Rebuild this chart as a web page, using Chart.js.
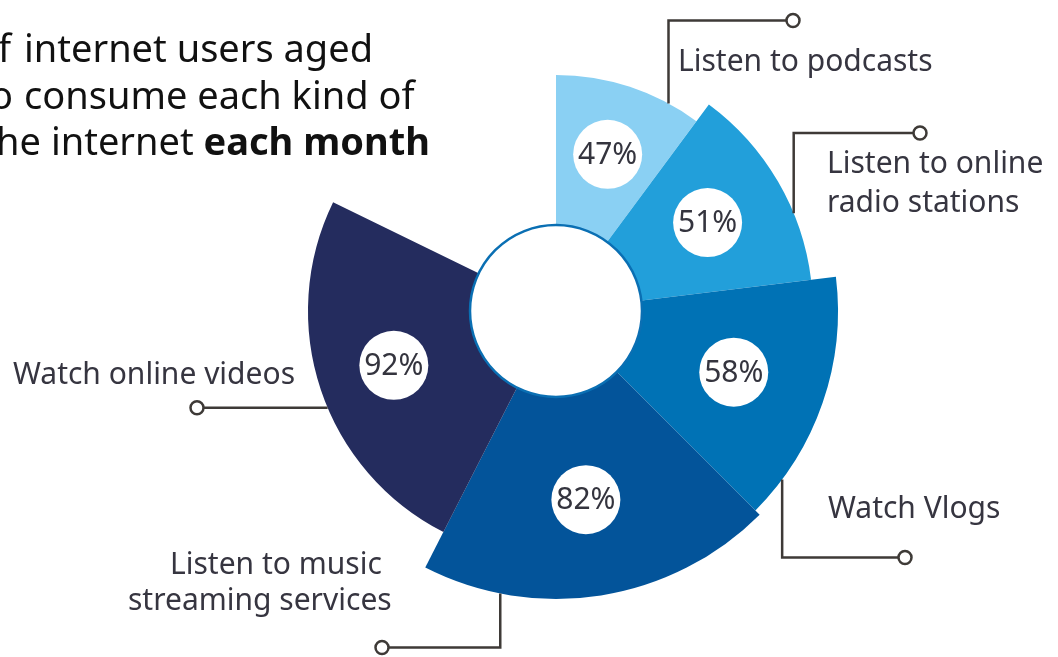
<!DOCTYPE html>
<html>
<head>
<meta charset="utf-8">
<script src="https://cdn.jsdelivr.net/npm/chart.js@4.4.0/dist/chart.umd.min.js"></script>
<style>
html, body { margin: 0; padding: 0; background: #fff; }
#wrap { position: relative; width: 1058px; height: 657px; }
</style>
</head>
<body>
<div id="wrap"><canvas id="chart"></canvas></div>
<script>
// categories, one entry per slice (clockwise from the top)
const categories = [
    ["Listen to podcasts"],
    ["Listen to online", "radio stations"],
    ["Watch Vlogs"],
    ["Listen to music", "streaming services"],
    ["Watch online videos"]
];
const shares = [47, 51, 58, 82, 92];
// length of each slice beyond the hole
const reach = [75, 85.5, 98, 101, 81];
// angle covered by each slice, degrees
const sweep = [36.5, 46.5, 52, 72, 89];

const Colors = ["#8ad0f3", "#229fda", "#0072b5", "#03549a", "#242c5e"];
const inkText = "#363540";
const inkLine = "#3e3a37";

// where the callout lines and labels go
const callouts = [
    { frac: 0.78, elbowY: 20.5, endX: 793, lines: [[678, 71]] },
    { frac: 0.67, elbowY: 133, endX: 920, lines: [[827, 173], [827, 211.5]] },
    { frac: 0.84, elbowY: 557.5, endX: 905, lines: [[828, 518]] },
    { frac: 0.78, elbowY: 647.5, endX: 382, lines: [[170, 573.5], [128, 610]] },
    { frac: 0.45, elbowY: null, endX: 197, lines: [[13, 383.5]] }
];

const decor = {
    id: 'decor',
    afterDatasetsDraw(chart) {
        const ctx = chart.ctx;
        const scale = chart.scales.r;
        const cx = scale.xCenter, cy = scale.yCenter;
        const hole = scale.getDistanceFromCenterForValue(0);
        ctx.save();

        // white hole with blue ring
        ctx.beginPath();
        ctx.arc(cx, cy, hole, 0, Math.PI * 2);
        ctx.fillStyle = "#fff";
        ctx.fill();
        ctx.lineWidth = 2.5;
        ctx.strokeStyle = "#0a6fb3";
        ctx.stroke();

        const arcs = chart.getDatasetMeta(0).data;
        arcs.forEach((arc, i) => {
            // value bubble
            const a = (arc.startAngle + arc.endAngle) / 2;
            const r = (hole + arc.outerRadius) / 2 + 4;
            const x = cx + Math.cos(a) * r, y = cy + Math.sin(a) * r;
            ctx.beginPath();
            ctx.arc(x, y, 34.5, 0, Math.PI * 2);
            ctx.fillStyle = "#fff";
            ctx.fill();
            ctx.fillStyle = "#34343e";
            ctx.font = '30px "Noto Sans"';
            ctx.textAlign = "center";
            ctx.textBaseline = "middle";
            ctx.fillText(shares[i] + "%", x, y + 1);

            // callout
            const c = callouts[i];
            const ca = arc.startAngle + c.frac * (arc.endAngle - arc.startAngle);
            const ax = cx + Math.cos(ca) * arc.outerRadius;
            const ay = cy + Math.sin(ca) * arc.outerRadius;
            const ey = c.elbowY === null ? ay : c.elbowY;
            ctx.beginPath();
            ctx.moveTo(ax, ay);
            ctx.lineTo(ax, ey);
            ctx.lineTo(c.endX, ey);
            ctx.lineWidth = 2.5;
            ctx.strokeStyle = inkLine;
            ctx.stroke();
            ctx.beginPath();
            ctx.arc(c.endX, ey, 6.5, 0, Math.PI * 2);
            ctx.fillStyle = "#fff";
            ctx.fill();
            ctx.stroke();

            ctx.fillStyle = inkText;
            ctx.font = '30px "Noto Sans"';
            ctx.textAlign = "left";
            ctx.textBaseline = "alphabetic";
            categories[i].forEach((t, k) => {
                ctx.fillText(t, c.lines[k][0], c.lines[k][1]);
            });
        });

        // title, cut off at the left edge like the source
        ctx.fillStyle = "#111";
        ctx.textBaseline = "alphabetic";
        ctx.font = '38px "Noto Sans"';
        ctx.textAlign = "right";
        ctx.fillText("of", 11, 61.5);
        ctx.fillText("who", 13, 108.5);
        ctx.textAlign = "left";
        ctx.fillText("internet users aged", 24, 61.5);
        ctx.fillText("consume each kind of", 24, 108.5);
        let x = 41 - ctx.measureText("the").width;
        ctx.fillText("the internet ", x, 155);
        x += ctx.measureText("the internet ").width;
        ctx.font = 'bold 38px "Noto Sans"';
        ctx.fillText("each month", x, 155);
        ctx.restore();
    }
};

function makeChart() {
    new Chart(document.getElementById("chart"), {
        type: 'polarArea',
        data: {
            labels: categories.map(c => c.join(" ")),
            datasets: [{
                data: reach,
                backgroundColor: Colors,
                borderWidth: 0,
                angle: ctx => sweep[ctx.dataIndex]
            }]
        },
        options: {
            responsive: true,
            maintainAspectRatio: false,
            animation: false,
            layout: { padding: { left: 256, right: 202, top: 11, bottom: 46 } },
            scales: {
                r: {
                    display: false,
                    min: -43,
                    max: 107,
                    startAngle: 0
                }
            },
            plugins: {
                legend: { display: false },
                tooltip: { enabled: false }
            }
        },
        plugins: [decor]
    });
}

Promise.all([
    document.fonts.load('30px "Noto Sans"'),
    document.fonts.load('bold 38px "Noto Sans"')
]).catch(() => null).then(makeChart);
</script>
</body>
</html>
